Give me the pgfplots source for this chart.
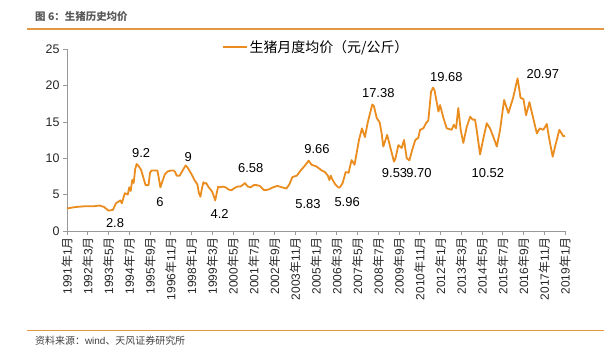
\documentclass[border=0pt]{standalone}
\usepackage{pgfplots}
\usepackage{pgfplotstable}
\pgfplotsset{compat=1.18}
\usepackage{fontspec}
\setmainfont{Liberation Sans}
\newfontfamily\cjk{Noto Sans CJK SC}
\definecolor{pig}{RGB}{234,140,30}
\definecolor{rulec}{RGB}{228,152,66}
\newcommand\ym[2]{#1{\cjk 年}#2{\cjk 月}}
\pgfplotstableread{
m v
0 3.1
6 3.3
12 3.4
18 3.4
22 3.5
25 3.3
28 2.8
31 2.9
33 3.8
36 4.2
37 3.8
39 5.2
41 5.0
42 6.0
43 5.5
44 7.0
45 6.6
46 8.5
47 9.2
48 9.0
50 8.4
52 7.0
53 6.3
55 6.3
56 8.0
57 8.3
59 8.3
61 8.3
62 7.2
63 6.0
64 6.6
66 7.8
68 8.2
70 8.3
72 8.3
73 8.1
74 7.6
76 7.6
78 8.3
80 9.0
81 8.8
82 8.5
84 7.8
86 7.0
88 6.4
89 5.2
90 4.7
91 5.8
92 6.7
93 6.5
94 6.6
95 6.2
96 5.9
98 5.4
99 4.8
100 4.2
101 5.2
102 6.1
103 6.0
105 6.1
107 6.0
109 5.7
111 5.6
113 5.9
115 6.1
117 6.1
119 6.4
120 6.58
122 6.1
124 6.0
126 6.3
128 6.3
130 6.2
133 5.6
136 5.7
139 6.0
142 6.2
145 6.0
148 5.83
150 6.4
152 7.4
155 7.6
158 8.4
161 9.1
163 9.66
165 9.1
168 8.9
172 8.3
174 8.1
176 7.6
177 7.0
178 7.6
179 7.1
181 6.4
183 6.0
184 5.96
186 6.6
188 8.1
190 8.0
192 9.75
194 9.1
197 12.5
199 14.1
201 12.9
203 15.0
204.5 16.2
206 17.38
207 17.2
209 15.5
211 14.9
212.3 13.4
213.4 11.6
216 13.2
218 11.6
220.6 9.53
221.5 9.9
223.6 11.8
225.8 11.4
227.4 12.5
229.2 10.0
231 9.70
233 11.2
235 12.5
237 12.8
238.2 13.9
240.4 14.1
242.2 14.8
243.8 15.2
245.6 19.1
247 19.68
248 19.3
250.6 16.4
251.7 17.3
254 15.5
256.2 14.1
259.5 13.9
261 14.6
262.5 14.1
264 16.9
265.6 13.9
267.4 12.1
269.7 14.3
272 15.7
273.7 15.3
275.3 15.3
276.4 13.9
278.7 10.52
281 12.8
283.2 14.8
285.4 14.1
287.7 12.9
290 11.6
292.2 13.9
294.9 18.0
297.8 16.2
301 18.3
304 20.97
306 18.3
308 18.1
309.7 15.9
312 17.7
313.5 16.4
317 13.4
319 14.1
321.4 13.9
323.7 14.7
325.5 12.5
327.7 10.2
329.3 11.6
332.2 13.9
334.9 13.0
336 13.1
}\pigdata
\begin{document}
\begin{tikzpicture}
\path[use as bounding box] (0bp,0bp) rectangle (611bp,-355bp);
\draw[rulec, line width=1.2bp] (27bp,-29bp) -- (604bp,-29bp);
\draw[rulec, line width=1bp] (27bp,-330bp) -- (604bp,-330bp);
\node[anchor=west, text=black!65, font=\fontsize{10.5}{12}\selectfont\cjk\bfseries, inner sep=0pt] at (35bp,-17bp) {图 6：生猪历史均价};
\node[anchor=west, text=black!75, font=\fontsize{10}{12}\selectfont, inner sep=0pt] at (35bp,-341bp) {{\cjk 资料来源：}wind{\cjk 、天风证券研究所}};
\begin{axis}[
  at={(67bp,-231bp)}, anchor=south west,
  width=498bp, height=182bp, scale only axis,
  xmin=0, xmax=336, ymin=0, ymax=25,
  axis x line=bottom, axis y line=left,
  axis line style={-, draw=gray!80, line width=0.6bp},
  tick align=outside, major tick length=4bp,
  tick style={draw=gray!80, line width=0.6bp},
  xtick={0,14,...,336},
  xticklabels={{\ym{1991}{1}},{\ym{1992}{3}},{\ym{1993}{5}},{\ym{1994}{7}},{\ym{1995}{9}},{\ym{1996}{11}},{\ym{1998}{1}},{\ym{1999}{3}},{\ym{2000}{5}},{\ym{2001}{7}},{\ym{2002}{9}},{\ym{2003}{11}},{\ym{2005}{1}},{\ym{2006}{3}},{\ym{2007}{5}},{\ym{2008}{7}},{\ym{2009}{9}},{\ym{2010}{11}},{\ym{2012}{1}},{\ym{2013}{3}},{\ym{2014}{5}},{\ym{2015}{7}},{\ym{2016}{9}},{\ym{2017}{11}},{\ym{2019}{1}}},
  xticklabel style={rotate=90, anchor=east, font=\fontsize{12}{12}\selectfont, text=black!85, inner sep=2bp},
  ytick={0,5,...,25},
  yticklabel style={font=\fontsize{12.5}{13}\selectfont, text=black!85},
  /pgf/number format/assume math mode=true,
  clip=false,
  legend style={at={(0.5,1.01)}, anchor=center, draw=none, fill=none, font=\fontsize{14}{16}\selectfont\cjk},
  legend image code/.code={\draw[#1, line width=2bp] (0bp,0bp) -- (24bp,0bp);},
]
\addplot[pig, line width=1.8bp, line join=round] table[x=m, y=v] {\pigdata};
\addlegendentry{生猪月度均价（元/公斤）}
\begin{scope}[every node/.style={font=\fontsize{13}{14}\selectfont, text=black}]
\node at (axis cs:50,10.7) {9.2};
\node at (axis cs:32.4,1.1) {2.8};
\node at (axis cs:62.8,4.0) {6};
\node at (axis cs:81.8,10.2) {9};
\node at (axis cs:103,2.3) {4.2};
\node at (axis cs:124,8.7) {6.58};
\node at (axis cs:162.6,3.7) {5.83};
\node at (axis cs:168.7,11.3) {9.66};
\node at (axis cs:189,4.0) {5.96};
\node at (axis cs:210,19.0) {17.38};
\node at (axis cs:221,8.0) {9.53};
\node at (axis cs:237.5,8.0) {9.70};
\node at (axis cs:256,21.2) {19.68};
\node at (axis cs:284,8.0) {10.52};
\node at (axis cs:321,21.6) {20.97};
\end{scope}
\end{axis}
\end{tikzpicture}
\end{document}
